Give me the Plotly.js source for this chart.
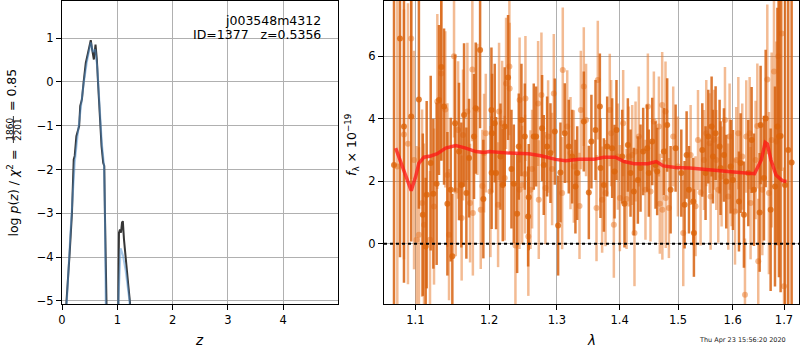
<!DOCTYPE html>
<html>
<head>
<meta charset="utf-8">
<script src="https://cdn.plot.ly/plotly-3.0.1.min.js"></script>
<style>html,body{margin:0;padding:0;background:#fff;}#chart{width:800px;height:350px;}</style>
</head>
<body>
<div id="chart"></div>
<script>
// ---- Left panel: log p(z) ----
const zDark = [0.01, 0.079, 0.139, 0.18, 0.212, 0.23, 0.26, 0.28, 0.31, 0.33, 0.36, 0.39, 0.43, 0.47, 0.52, 0.545, 0.576, 0.606, 0.63, 0.655, 0.685, 0.715, 0.745, 0.764, 0.776, 0.79, 0.80, 1.01, 1.018, 1.03, 1.048, 1.067, 1.085, 1.10, 1.12, 1.158, 1.2, 1.23, 1.24];
const pzDark = [-20, -5.05, -3.9, -2.99, -1.77, -1.69, -1.24, -1.12, -1.01, -0.55, -0.40, -0.02, 0.43, 0.66, 0.95, 0.74, 0.51, 0.85, 0.51, -0.10, -0.86, -1.47, -1.85, -1.92, -2.99, -5.04, -20, -20, -5.04, -3.44, -3.37, -3.44, -3.21, -3.18, -3.59, -4.2, -4.66, -5.04, -20];
const zBlue = [0.01, 0.085, 0.15, 0.2, 0.23, 0.28, 0.33, 0.39, 0.45, 0.52, 0.56, 0.6, 0.64, 0.68, 0.72, 0.76, 0.775, 0.79, 0.80, 1.01, 1.02, 1.06, 1.1, 1.15, 1.22, 1.24];
const pzBlue = [-20, -5.07, -3.5, -2.5, -1.85, -1.25, -0.7, -0.05, 0.45, 0.9, 0.68, 0.74, 0.3, -0.7, -1.4, -1.9, -2.9, -5.0, -20, -20, -5.0, -3.8, -3.95, -4.3, -5.0, -20];
const zTicks = [0, 1, 2, 3, 4];
const pzTicks = [-5, -4, -3, -2, -1, 0, 1];

// ---- Right panel: spectrum ----
const lamDark = [1.0725, 1.0801, 1.0852, 1.0945, 1.1045, 1.1096, 1.1134, 1.1147, 1.12, 1.1235, 1.1279, 1.131, 1.1341, 1.1378, 1.1423, 1.1468, 1.149, 1.1527, 1.1581, 1.1613, 1.165, 1.1682, 1.1719, 1.1788, 1.1812, 1.1873, 1.1919,
  1.2033, 1.2042, 1.2036, 1.208, 1.2099, 1.2162, 1.2195, 1.2223, 1.2272, 1.2321, 1.2355, 1.2404, 1.2428, 1.2467, 1.2517, 1.2566, 1.2575, 1.265, 1.2685, 1.2775, 1.28, 1.2851, 1.2902, 1.2968, 1.3019, 1.3055, 1.3122, 1.3184, 1.3237, 1.3288, 1.3316, 1.342, 1.35, 1.3541,
  1.3607, 1.3677, 1.3687, 1.3742, 1.3796, 1.3877, 1.3916, 1.3948, 1.4043, 1.4081, 1.4137, 1.4182, 1.4237, 1.4305, 1.435, 1.4395, 1.4463, 1.4491, 1.455, 1.4607, 1.4635, 1.4751, 1.4809, 1.4869, 1.4957, 1.5058, 1.5117, 1.5153, 1.5195, 1.5273, 1.5284,
  1.5436, 1.5496, 1.5546, 1.5607, 1.5632, 1.5681, 1.5755, 1.5773, 1.5836, 1.5879, 1.5961, 1.6005, 1.6119, 1.6151, 1.6214, 1.6298, 1.6362, 1.6407, 1.6518, 1.6537, 1.6602, 1.6636, 1.6734, 1.682, 1.6868, 1.6899, 1.6932, 1.702, 1.7085, 1.7154];
const fluxDark = [2.52, 6.57, 3.75, 4.07, 4.62, 0.93, -0.09, 1.57, 2.58, 1.6, 1.92, 4.6, 5.66, 4.39, 1.28, 1.73, -0.4, 3.86, 2.95, 1.88, 4.12, 1.62, 2.74, 3.43, 4.34, 6.2, 1.43,
  4.28, 3.54, 2.27, 3.86, 2.26, 2.79, 1.88, 3.75, 5.32, 2.39, 1.92, 0.96, 3.11, 3.96, 3.43, 0.87, 1.49, 3.43, 3.43, 3.7, 2.52, 3.11, 2.9, 3.59, 0.58, 2.28, 3.54, 3.11, 2.79, 1.83, 2.26, 3.91, 1.64, 3.27,
  3.64, 4.39, 2.42, 1.88, 3.11, 3.06, 2.31, 3.64, 2.79, 1.28, 3.16, 2.26, 1.67, 2.04, 2.42, 2.95, 3.06, 2.26, 3.27, 2.52, 2.31, 2.95, 3.8, 1.73, 3.06, 2.26, 1.25, 2.84, 1.73, 1.35, 0.34,
  3.0, 2.26, 3.43, 3.75, 2.79, 3.54, 3.11, 2.42, 2.84, 1.99, 2.47, 2.04, 1.35, 2.58, 0.93, 2.26, 3.32, 1.73, 1.0, 3.8, 2.1, 4.01, 1.09, 1.83, 3.75, 3.43, 3.45, 1.88, 3.0, 2.6];
const errDark = [6.5, 7.0, 5.0, 4.0, 3.5, 2.6, 2.2, 3.0, 2.8, 2.4, 2.6, 2.4, 3.0, 2.5, 2.3, 2.3, 2.0, 2.2, 2.2, 2.0, 2.3, 2.1, 1.9, 2.0, 2.1, 2.5, 1.9,
  2.0, 1.9, 1.8, 1.9, 1.8, 1.7, 1.8, 1.9, 2.0, 1.9, 1.9, 1.9, 1.7, 1.8, 1.7, 1.6, 1.7, 1.7, 1.6, 1.7, 1.6, 1.6, 1.6, 1.7, 1.6, 1.6, 1.6, 1.5, 1.5, 1.5, 1.5, 1.6, 1.5, 1.5,
  1.6, 1.7, 1.6, 1.5, 1.6, 1.6, 1.5, 1.6, 1.5, 1.4, 1.5, 1.4, 1.4, 1.4, 1.4, 1.4, 1.4, 1.4, 1.4, 1.4, 1.4, 1.4, 1.5, 1.4, 1.4, 1.4, 1.4, 1.4, 1.4, 1.4, 1.4,
  1.5, 1.5, 1.5, 1.6, 1.5, 1.5, 1.5, 1.5, 1.5, 1.5, 1.5, 1.6, 1.6, 1.6, 1.7, 1.7, 1.7, 1.8, 1.9, 1.9, 2.0, 2.2, 2.6, 3.2, 3.8, 4.5, 5.0, 7.0, 8.0, 9.0];

const lamLight = [1.0767, 1.0852, 1.0903, 1.0945, 1.0982, 1.1015, 1.1045, 1.1087, 1.1112, 1.1191, 1.1244, 1.1288, 1.1341, 1.1395, 1.1423, 1.1445, 1.1513, 1.1536, 1.1568, 1.1617, 1.1636, 1.1696, 1.1733, 1.1765, 1.1772, 1.1835, 1.1882, 1.1905, 1.1929, 1.1953,
  1.2019, 1.2128, 1.2142, 1.2186, 1.2223, 1.2243, 1.2291, 1.2295, 1.2379, 1.2438, 1.244, 1.2477, 1.2526, 1.252, 1.2569, 1.2601, 1.2625, 1.2715, 1.2725, 1.2765, 1.2826, 1.2866, 1.2927, 1.2953, 1.3081, 1.3091, 1.316, 1.3211, 1.3263, 1.3352, 1.3373, 1.342, 1.3456,
  1.3623, 1.3644, 1.3714, 1.3769, 1.3838, 1.3861, 1.3905, 1.3971, 1.4004, 1.4059, 1.4115, 1.4153, 1.421, 1.4248, 1.4266, 1.4321, 1.4434, 1.4475, 1.452, 1.4578, 1.4665, 1.4681, 1.4722, 1.4725, 1.478, 1.4784, 1.4839, 1.4915, 1.4998, 1.5093, 1.5225, 1.5314, 1.5358,
  1.5405, 1.5466, 1.5509, 1.557, 1.5589, 1.565, 1.5693, 1.573, 1.5792, 1.5855, 1.5918, 1.5942, 1.598, 1.6044, 1.6068, 1.6107, 1.6182, 1.6234, 1.6259, 1.6324, 1.6342, 1.6439, 1.6473, 1.6491, 1.657, 1.6668, 1.67, 1.6754, 1.68, 1.6846, 1.6886, 1.6954, 1.7];
const fluxLight = [2.47, 3.5, 3.2, 6.57, 2.68, 0.13, 0.29, 1.3, 0.61, 0.13, 1.19, 4.55, 5.45, 4.3, 2.2, 0.29, 6.0, 1.7, 3.64, 0.82, 3.48, 4.23, 1.3, 5.58, 0.98, 4.3, 1.09, 1.85, 2.9, 3.54,
  1.67, 1.25, 4.23, 3.86, 2.1, 5.13, 5.67, 4.97, -0.06, 1.73, 4.6, 1.88, 4.65, 2.23, 0.23, 1.73, 2.39, 4.49, 1.41, 4.76, 1.78, 3.43, 2.39, 4.81, 1.62, 5.56, 3.75, 2.9, 2.47, 1.21, 4.28, 5.03, 3.96,
  1.14, 5.24, 1.41, 1.62, 4.28, 3.54, 0.61, 2.79, 1.46, 3.86, 1.43, 2.79, 2.84, 0.34, 2.95, 3.43, 1.73, 4.39, 1.67, 3.91, 3.75, 1.28, 4.44, 1.09, 4.23, 1.46, 1.14, 3.43, 2.47, 0.34, 2.84, 1.2, 3.32,
  1.64, 2.68, 3.54, 3.22, 1.51, 3.33, 2.68, 1.73, 2.15, 3.96, 1.51, 3.43, 2.26, 1.03, 2.68, 3.54, 2.79, -1.63, 3.43, 3.54, 1.3, 2.68, 3.77, -0.56, 1.73, 5.26, 1.62, 3.32, 5.51, 3.27, 6.0, 6.73, -1.36];
const errLight = [6.0, 4.0, 4.5, 4.5, 3.5, 3.0, 2.8, 3.0, 2.6, 2.2, 2.5, 2.8, 2.8, 2.5, 2.3, 2.1, 2.6, 2.1, 2.2, 2.0, 2.1, 2.2, 1.9, 2.3, 2.0, 2.1, 1.9, 1.8, 1.9, 1.9,
  2.1, 2.0, 2.2, 2.0, 2.0, 2.1, 2.2, 2.1, 2.0, 1.9, 2.0, 1.9, 2.0, 1.9, 1.9, 1.9, 1.9, 2.0, 1.9, 2.0, 1.8, 1.8, 1.8, 1.9, 1.8, 2.0, 1.8, 1.8, 1.8, 1.7, 1.9, 1.9, 1.8,
  1.7, 1.9, 1.7, 1.7, 1.8, 1.7, 1.7, 1.7, 1.7, 1.7, 1.6, 1.6, 1.6, 1.7, 1.6, 1.6, 1.6, 1.7, 1.6, 1.6, 1.6, 1.6, 1.7, 1.6, 1.6, 1.6, 1.6, 1.6, 1.6, 1.7, 1.6, 1.6, 1.6,
  1.7, 1.6, 1.7, 1.6, 1.7, 1.6, 1.6, 1.7, 1.6, 1.7, 1.7, 1.7, 1.7, 1.7, 1.7, 1.8, 1.7, 1.8, 1.8, 1.8, 1.8, 1.9, 2.0, 2.0, 2.1, 2.4, 2.6, 2.8, 3.0, 3.2, 3.6, 4.4, 3.8];

const lamModel = [1.0746, 1.0801, 1.0874, 1.0945, 1.1003, 1.1045, 1.1112, 1.12, 1.1288, 1.14, 1.1536, 1.1674, 1.1812, 1.1929, 1.2, 1.2286, 1.2577, 1.2775, 1.298, 1.3135, 1.3346, 1.358, 1.374, 1.393, 1.4074, 1.4244, 1.4475, 1.462, 1.4742, 1.4955, 1.5207, 1.5375, 1.5745, 1.6128, 1.6418, 1.655, 1.6627, 1.667, 1.674, 1.684, 1.6966, 1.705];
const fluxModel = [3.06, 2.68, 2.15, 1.70, 2.15, 2.58, 2.77, 2.81, 2.88, 3.06, 3.14, 3.06, 2.95, 2.92, 2.95, 2.90, 2.88, 2.81, 2.70, 2.66, 2.70, 2.70, 2.77, 2.77, 2.63, 2.56, 2.56, 2.63, 2.49, 2.44, 2.42, 2.39, 2.34, 2.28, 2.24, 2.68, 3.24, 3.19, 2.68, 2.20, 2.02, 1.99];
const lamTicks = [1.1, 1.2, 1.3, 1.4, 1.5, 1.6, 1.7];
const lamTickText = ['1.1', '1.2', '1.3', '1.4', '1.5', '1.6', '1.7'];
const fluxTicks = [0, 2, 4, 6];

const FONT = 'DejaVu Sans, sans-serif';

const traces = [
  {x: zDark, y: pzDark, xaxis: 'x', yaxis: 'y', mode: 'lines', line: {color: '#363636', width: 2}, hoverinfo: 'skip'},
  {x: zBlue, y: pzBlue, xaxis: 'x', yaxis: 'y', mode: 'lines', line: {color: 'rgba(80,145,210,0.5)', width: 2}, hoverinfo: 'skip'},
  {x: lamLight, y: fluxLight, xaxis: 'x2', yaxis: 'y2', mode: 'markers',
   marker: {size: 6, color: 'rgba(232,120,40,0.5)', line: {width: 0}},
   error_y: {type: 'data', array: errLight, visible: true, color: 'rgba(232,120,40,0.5)', thickness: 2.5, width: 0}, hoverinfo: 'skip'},
  {x: lamDark, y: fluxDark, xaxis: 'x2', yaxis: 'y2', mode: 'markers',
   marker: {size: 6, color: 'rgba(220,100,10,0.8)', line: {width: 0}},
   error_y: {type: 'data', array: errDark, visible: true, color: 'rgba(215,98,15,0.85)', thickness: 2.5, width: 0}, hoverinfo: 'skip'},
  {x: lamModel, y: fluxModel, xaxis: 'x2', yaxis: 'y2', mode: 'lines', line: {color: 'rgba(255,20,20,0.75)', width: 3.5}, hoverinfo: 'skip'}
];

const axBase = {
  showline: true, mirror: true, linecolor: '#000', linewidth: 1,
  ticks: 'outside', ticklen: 5, tickwidth: 1, tickcolor: '#000',
  showgrid: true, gridcolor: '#b0b0b0', gridwidth: 1, zeroline: false,
  tickfont: {family: FONT, size: 11.5, color: '#000'}, automargin: false, fixedrange: true
};
const yTop = 1 - 1/350, yBot = 1 - 304/350;

const layout = {
  width: 800, height: 350,
  margin: {l: 0, r: 0, t: 0, b: 0},
  paper_bgcolor: '#fff', plot_bgcolor: '#fff',
  showlegend: false,
  xaxis: Object.assign({}, axBase, {domain: [62/800, 338/800], range: [0, 4.99], tickvals: zTicks, anchor: 'y'}),
  yaxis: Object.assign({}, axBase, {domain: [yBot, yTop], range: [-5.07, 1.845], tickvals: pzTicks, anchor: 'x'}),
  xaxis2: Object.assign({}, axBase, {domain: [384/800, 799.3/800], type: 'log', range: [Math.log10(1.0599), Math.log10(1.731)], tickvals: lamTicks, ticktext: lamTickText, anchor: 'y2'}),
  yaxis2: Object.assign({}, axBase, {domain: [yBot, yTop], range: [-1.93, 7.77], tickvals: fluxTicks, anchor: 'x2'}),
  shapes: [
    {type: 'line', xref: 'x2 domain', yref: 'y2', x0: 0, x1: 1, y0: 0, y1: 0, line: {color: '#000', width: 2, dash: 'dot'}},
    {type: 'line', xref: 'paper', yref: 'paper', x0: 13.4/800, x1: 13.4/800, y0: 1 - 143/350, y1: 1 - 116/350, line: {color: '#000', width: 0.8}}
  ],
  annotations: [
    {text: 'j003548m4312', xref: 'paper', yref: 'paper', x: 323/800, y: 1 - 20/350, xanchor: 'right', yanchor: 'middle', showarrow: false, font: {family: FONT, size: 12.5, color: '#000'}},
    {text: 'ID=1377\u00a0\u00a0\u00a0z=0.5356', xref: 'paper', yref: 'paper', x: 323/800, y: 1 - 35/350, xanchor: 'right', yanchor: 'middle', showarrow: false, font: {family: FONT, size: 12.5, color: '#000'}},
    {text: '<i>z</i>', xref: 'paper', yref: 'paper', x: 199/800, y: 1 - 340/350, xanchor: 'center', yanchor: 'middle', showarrow: false, font: {family: FONT, size: 13.5, color: '#000'}},
    {text: '<i>λ</i>', xref: 'paper', yref: 'paper', x: 591/800, y: 1 - 340/350, xanchor: 'center', yanchor: 'middle', showarrow: false, font: {family: FONT, size: 13.5, color: '#000'}},
    {text: 'log <i>p</i>(<i>z</i>) / <i>χ</i><sup>2</sup> =', xref: 'paper', yref: 'paper', x: 12/800, y: 1 - 193.5/350, xanchor: 'center', yanchor: 'middle', textangle: -90, showarrow: false, font: {family: FONT, size: 12.5, color: '#000'}},
    {text: '1860', xref: 'paper', yref: 'paper', x: 9.3/800, y: 1 - 129.5/350, xanchor: 'center', yanchor: 'middle', textangle: -90, showarrow: false, font: {family: FONT, size: 9, color: '#000'}},
    {text: '2201', xref: 'paper', yref: 'paper', x: 17.6/800, y: 1 - 129.5/350, xanchor: 'center', yanchor: 'middle', textangle: -90, showarrow: false, font: {family: FONT, size: 9, color: '#000'}},
    {text: '= 0.85', xref: 'paper', yref: 'paper', x: 12/800, y: 1 - 90/350, xanchor: 'center', yanchor: 'middle', textangle: -90, showarrow: false, font: {family: FONT, size: 12.5, color: '#000'}},
    {text: '<i>f</i><sub>λ</sub> × 10<sup>−19</sup>', xref: 'paper', yref: 'paper', x: 352/800, y: 1 - 145/350, xanchor: 'center', yanchor: 'middle', textangle: -90, showarrow: false, font: {family: FONT, size: 12.5, color: '#000'}},
    {text: 'Thu Apr 23 15:56:20 2020', xref: 'paper', yref: 'paper', x: 787.5/800, y: 1 - 340/350, xanchor: 'right', yanchor: 'middle', showarrow: false, font: {family: FONT, size: 6.5, color: '#222'}}
  ]
};

Plotly.newPlot('chart', traces, layout, {staticPlot: true, displayModeBar: false});
</script>
</body>
</html>
